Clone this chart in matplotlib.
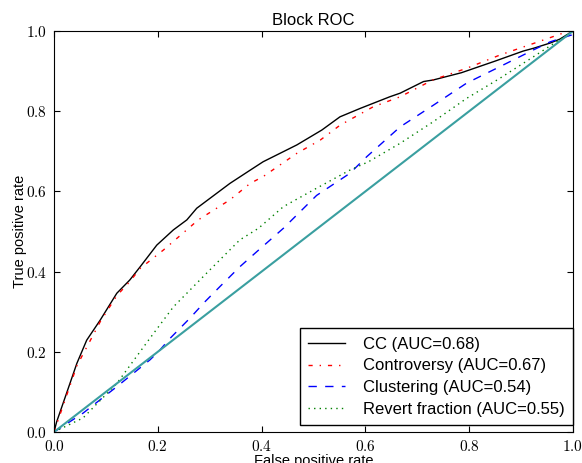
import numpy as np
import matplotlib
matplotlib.use('Agg')
import matplotlib.pyplot as plt
from matplotlib.ticker import FuncFormatter

plt.rcParams['font.family'] = ['Liberation Sans', 'DejaVu Sans']
plt.rcParams['mathtext.fontset'] = 'cm'

# curves (fpr, tpr)
cc_fpr = [0, 0.005, 0.024, 0.044, 0.063, 0.089, 0.121, 0.146, 0.166, 0.198, 0.230, 0.256,
          0.275, 0.339, 0.378, 0.403, 0.468, 0.516, 0.551, 0.590, 0.647, 0.667, 0.712,
          0.731, 0.785, 0.850, 0.904, 0.924, 0.956, 0.975, 1.0]
cc_tpr = [0, 0.025, 0.096, 0.171, 0.229, 0.279, 0.346, 0.379, 0.412, 0.466, 0.504, 0.529,
          0.558, 0.620, 0.653, 0.674, 0.716, 0.753, 0.786, 0.807, 0.836, 0.845, 0.874,
          0.878, 0.896, 0.925, 0.950, 0.957, 0.970, 0.980, 1.0]

con_fpr = [0, 0.024, 0.044, 0.089, 0.121, 0.146, 0.166, 0.211, 0.278, 0.339, 0.378, 0.403,
           0.468, 0.513, 0.551, 0.615, 0.667, 0.730, 0.795, 0.859, 0.924, 0.988, 1.0]
con_tpr = [0, 0.090, 0.165, 0.275, 0.340, 0.375, 0.408, 0.454, 0.529, 0.579, 0.620, 0.637,
           0.695, 0.728, 0.765, 0.811, 0.836, 0.878, 0.907, 0.940, 0.969, 0.998, 1.0]

clu_fpr = [0, 0.056, 0.121, 0.185, 0.201, 0.224, 0.262, 0.291, 0.320, 0.358, 0.391, 0.442,
           0.506, 0.570, 0.603, 0.667, 0.731, 0.795, 0.859, 0.924, 0.956, 0.997, 1.0]
clu_tpr = [0, 0.047, 0.113, 0.180, 0.200, 0.234, 0.284, 0.325, 0.363, 0.412, 0.450, 0.508,
           0.590, 0.645, 0.687, 0.761, 0.815, 0.870, 0.911, 0.953, 0.973, 0.990, 1.0]

rev_fpr = [0, 0.056, 0.121, 0.185, 0.230, 0.294, 0.358, 0.394, 0.442, 0.506, 0.570, 0.606,
           0.667, 0.731, 0.795, 0.859, 0.924, 0.988, 1.0]
rev_tpr = [0, 0.035, 0.121, 0.234, 0.312, 0.396, 0.479, 0.508, 0.562, 0.608, 0.653, 0.674,
           0.720, 0.774, 0.832, 0.882, 0.936, 0.990, 1.0]

labels = ['CC (AUC=0.68)', 'Controversy (AUC=0.67)', 'Clustering (AUC=0.54)',
          'Revert fraction (AUC=0.55)']

fig = plt.figure(figsize=(5.82, 4.63), dpi=100)
ax = fig.add_axes([0.0928, 0.067, 0.8917, 0.866])

ax.plot(cc_fpr, cc_tpr, color='black', linestyle='-', lw=1, label=labels[0])
ax.plot(con_fpr, con_tpr, color='red', lw=1, dashes=[3, 5, 1, 5], label=labels[1])
ax.plot(clu_fpr, clu_tpr, color='blue', lw=1, dashes=[6, 6], label=labels[2])
ax.plot(rev_fpr, rev_tpr, color='green', lw=1, dashes=[1, 3], label=labels[3])
ax.plot([0, 1], [0, 1], color='#3a9fa0', lw=1.5)

ax.set_xlim(0, 1)
ax.set_ylim(0, 1)
ax.set_xticks(np.arange(0, 1.01, 0.2))
ax.set_yticks(np.arange(0, 1.01, 0.2))
fmt = FuncFormatter(lambda v, p: r'$%.1f$' % v)
ax.xaxis.set_major_formatter(fmt)
ax.yaxis.set_major_formatter(fmt)
ax.tick_params(direction='in', top=True, right=True, length=4, labelsize=11, pad=5)

ax.set_title('Block ROC', fontsize=12, pad=4)
ax.set_xlabel('False positive rate', fontsize=10.5, labelpad=0)
ax.set_ylabel('True positive rate', fontsize=10.5, labelpad=-1)

leg = ax.legend(loc='lower right', bbox_to_anchor=(1.0, 0.017), fontsize=12,
                fancybox=False, framealpha=1, borderaxespad=0, handlelength=2.2,
                handletextpad=1.1, labelspacing=0.4, borderpad=0.5)
leg.get_frame().set_edgecolor('black')

fig.savefig('out.png', dpi=100)
